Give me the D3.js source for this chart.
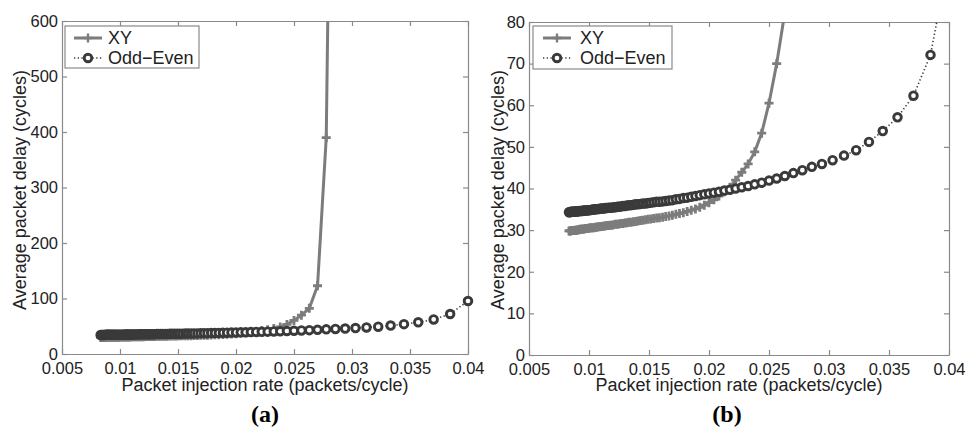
<!DOCTYPE html>
<html>
<head>
<meta charset="utf-8">
<script src="https://cdn.jsdelivr.net/npm/d3@7"></script>
<style>
body{margin:0;background:#fff;}
svg{display:block;font-family:"Liberation Sans",Arial,sans-serif;}
</style>
</head>
<body>
<svg id="chart" width="966" height="428"></svg>
<script>
// injection rate (packets/cycle), one point per simulated rate
const rates = [
  0.00833,0.00840,0.00847,0.00855,0.00862,0.00870,0.00877,0.00885,0.00893,0.00901,
  0.00909,0.00917,0.00926,0.00935,0.00943,0.00952,0.00962,0.00971,0.00980,0.00990,
  0.01000,0.01010,0.01020,0.01031,0.01042,0.01053,0.01064,0.01075,0.01087,0.01099,
  0.01111,0.01124,0.01136,0.01149,0.01163,0.01176,0.01190,0.01205,0.01220,0.01235,
  0.01250,0.01266,0.01282,0.01299,0.01316,0.01333,0.01351,0.01370,0.01389,0.01408,
  0.01429,0.01449,0.01471,0.01493,0.01515,0.01538,0.01563,0.01587,0.01613,0.01639,
  0.01667,0.01695,0.01724,0.01754,0.01786,0.01818,0.01852,0.01887,0.01923,0.01961,
  0.02000,0.02041,0.02083,0.02128,0.02174,0.02222,0.02273,0.02326,0.02381,0.02439,
  0.02500,0.02564,0.02632,0.02703,0.02778,0.02857,0.02941,0.03030,0.03125,0.03226,
  0.03333,0.03448,0.03571,0.03704,0.03846,0.04000
];

// XY routing, average delay (cycles) - stops at 0.02857
const xyDelay = [
  29.8,29.8,29.8,29.9,29.9,29.9,29.9,30.0,30.0,30.0,
  30.1,30.1,30.2,30.2,30.2,30.3,30.3,30.4,30.4,30.4,
  30.5,30.5,30.6,30.6,30.6,30.7,30.7,30.8,30.8,30.9,
  30.9,31.0,31.0,31.1,31.1,31.2,31.2,31.3,31.4,31.4,
  31.5,31.6,31.6,31.7,31.8,31.9,31.9,32.0,32.1,32.2,
  32.3,32.4,32.5,32.6,32.7,32.8,32.9,33.0,33.1,33.3,
  33.4,33.6,33.8,34.0,34.2,34.5,34.8,35.1,35.5,36.0,
  36.6,37.3,38.2,39.2,40.3,42.0,43.9,45.9,48.8,53.3,
  60.5,70.0,82.3,123,390,1660
];

// Odd-Even routing, average delay (cycles)
const oeDelay = [
  34.3,34.3,34.4,34.4,34.4,34.4,34.5,34.5,34.5,34.5,
  34.5,34.6,34.6,34.6,34.6,34.7,34.7,34.7,34.7,34.8,
  34.8,34.8,34.9,34.9,35.0,35.0,35.0,35.1,35.1,35.2,
  35.2,35.2,35.3,35.3,35.4,35.4,35.4,35.5,35.5,35.6,
  35.6,35.7,35.8,35.8,35.9,36.0,36.0,36.1,36.2,36.2,
  36.3,36.4,36.4,36.5,36.6,36.7,36.8,36.8,36.9,37.0,
  37.1,37.2,37.4,37.5,37.7,37.8,38.0,38.2,38.4,38.6,
  38.8,39.0,39.2,39.5,39.7,40.0,40.3,40.6,41.0,41.4,
  41.9,42.4,43.0,43.7,44.4,45.2,45.9,46.8,47.9,49.2,
  51.2,53.8,57.1,62.3,72.1,95.5
];

const xTicks = [0.005,0.01,0.015,0.02,0.025,0.03,0.035,0.04];
const xTickLabels = ["0.005","0.01","0.015","0.02","0.025","0.03","0.035","0.04"];
const yTicksA = [0,100,200,300,400,500,600];
const yTicksB = [0,10,20,30,40,50,60,70,80];
const seriesNames = ["XY","Odd\u2212Even"];

const svg = d3.select("#chart");
const frameColor = "#8a8a8a";
const textColor = "#222";
const xyColor = "#7c7c7c";
const oeColor = "#3a3a3a";

const panels = [
  {key:"a", x0:62, x1:468, yb:354, yt:21, yMax:600, yTicks:yTicksA,
   leg:{x:65, y:26, w:134, h:42, l0:74, l1:102, tx:108}, yTitleX:26, labelX:265},
  {key:"b", x0:529, x1:949, yb:355, yt:22, yMax:80, yTicks:yTicksB,
   leg:{x:533, y:26, w:139, h:43, l0:543, l1:571, tx:580}, yTitleX:504, labelX:727}
];

const xyPts = xyDelay.map((d,i) => ({x:rates[i], y:d}));
const oePts = oeDelay.map((d,i) => ({x:rates[i], y:d}));

const plus = "M-4.5,0H4.5M0,-4.5V4.5";

panels.forEach(p => {
  const x = d3.scaleLinear().domain([0.005,0.04]).range([p.x0,p.x1]);
  const y = d3.scaleLinear().domain([0,p.yMax]).range([p.yb,p.yt]);
  const g = svg.append("g");

  g.append("clipPath").attr("id","clip-"+p.key)
    .append("rect").attr("x",p.x0).attr("y",p.yt)
    .attr("width",p.x1-p.x0).attr("height",p.yb-p.yt);

  // axes, ticks inside on all four sides
  const bottom = g.append("g").attr("transform",`translate(0,${p.yb})`)
    .call(d3.axisBottom(x).tickValues(xTicks).tickFormat((d,i) => xTickLabels[i])
      .tickSizeInner(-5).tickSizeOuter(0).tickPadding(8));
  const left = g.append("g").attr("transform",`translate(${p.x0},0)`)
    .call(d3.axisLeft(y).tickValues(p.yTicks).tickFormat(d3.format("d"))
      .tickSizeInner(-5).tickSizeOuter(0).tickPadding(4));
  const top = g.append("g").attr("transform",`translate(0,${p.yt})`)
    .call(d3.axisTop(x).tickValues(xTicks).tickFormat("").tickSizeInner(-5).tickSizeOuter(0));
  const right = g.append("g").attr("transform",`translate(${p.x1},0)`)
    .call(d3.axisRight(y).tickValues(p.yTicks).tickFormat("").tickSizeInner(-5).tickSizeOuter(0));
  [bottom,left,top,right].forEach(a => {
    a.selectAll("path.domain").attr("stroke",frameColor).attr("stroke-width",1.2);
    a.selectAll(".tick line").attr("stroke",frameColor).attr("stroke-width",1.2);
    a.selectAll(".tick text").attr("fill",textColor).style("font-size","16.5px")
      .style("font-family","'Liberation Sans',Arial,sans-serif");
  });

  const line = d3.line().x(d => x(d.x)).y(d => y(d.y));

  // XY: solid gray line with plus markers
  g.append("path").datum(xyPts).attr("clip-path",`url(#clip-${p.key})`)
    .attr("d",line).attr("fill","none").attr("stroke",xyColor).attr("stroke-width",3);
  g.append("g").selectAll("path").data(xyPts.filter(d => d.y <= p.yMax)).join("path")
    .attr("transform",d => `translate(${x(d.x)},${y(d.y)})`)
    .attr("d",plus).attr("stroke",xyColor).attr("stroke-width",2.8).attr("fill","none");

  // Odd-Even: dotted dark line with circle markers
  g.append("path").datum(oePts).attr("clip-path",`url(#clip-${p.key})`)
    .attr("d",line).attr("fill","none").attr("stroke",oeColor)
    .attr("stroke-width",1.6).attr("stroke-dasharray","1.3,2.4");
  g.append("g").selectAll("circle").data(oePts.filter(d => d.y <= p.yMax)).join("circle")
    .attr("cx",d => x(d.x)).attr("cy",d => y(d.y)).attr("r",3.8)
    .attr("fill","#fff").attr("stroke",oeColor).attr("stroke-width",2.9);

  // legend
  const L = p.leg;
  const lg = g.append("g");
  lg.append("rect").attr("x",L.x).attr("y",L.y).attr("width",L.w).attr("height",L.h)
    .attr("fill","#fff").attr("stroke",frameColor).attr("stroke-width",1.2);
  lg.append("line").attr("x1",L.l0).attr("x2",L.l1).attr("y1",L.y+12).attr("y2",L.y+12)
    .attr("stroke",xyColor).attr("stroke-width",3);
  lg.append("path").attr("transform",`translate(${(L.l0+L.l1)/2},${L.y+12})`)
    .attr("d",plus).attr("stroke",xyColor).attr("stroke-width",2.4).attr("fill","none");
  lg.append("line").attr("x1",L.l0).attr("x2",L.l1).attr("y1",L.y+32).attr("y2",L.y+32)
    .attr("stroke",oeColor).attr("stroke-width",1.6).attr("stroke-dasharray","1.3,2.4");
  lg.append("circle").attr("cx",(L.l0+L.l1)/2).attr("cy",L.y+32).attr("r",3.8)
    .attr("fill","#fff").attr("stroke",oeColor).attr("stroke-width",2.9);
  lg.selectAll("text").data(seriesNames).join("text")
    .attr("x",L.tx).attr("y",(d,i) => L.y + 18 + i*20)
    .attr("fill",textColor).style("font-size","18px").text(d => d);

  // titles
  g.append("text").attr("x",(p.x0+p.x1)/2).attr("y",391).attr("text-anchor","middle")
    .attr("fill",textColor).style("font-size","18px")
    .text("Packet injection rate (packets/cycle)");
  g.append("text").attr("transform",`translate(${p.yTitleX},190) rotate(-90)`)
    .attr("text-anchor","middle").attr("fill",textColor).style("font-size","18px")
    .text("Average packet delay (cycles)");
  g.append("text").attr("x",p.labelX).attr("y",422).attr("text-anchor","middle")
    .attr("fill","#000").style("font-family","'Liberation Serif','Times New Roman',serif")
    .style("font-weight","bold").style("font-size","24px").text(`(${p.key})`);
});
</script>
</body>
</html>
